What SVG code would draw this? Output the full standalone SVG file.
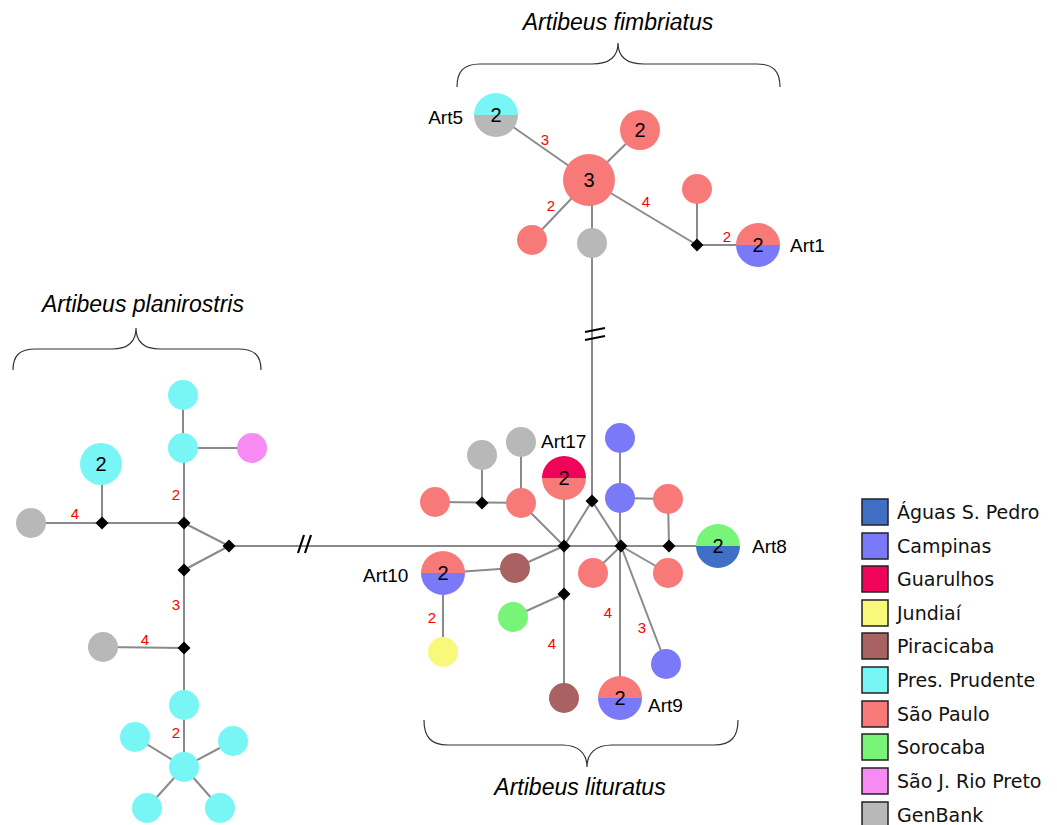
<svg xmlns="http://www.w3.org/2000/svg" width="1057" height="825" viewBox="0 0 1057 825">
  <style>
    .edge { stroke: #8a8a8a; stroke-width: 2; fill: none; }
    .brk { stroke: #000; stroke-width: 2.2; fill: none; }
    .brace { stroke: #333; stroke-width: 1.2; fill: none; }
    .sp { fill: #f87a78; }
    .ca { fill: #7a7af8; }
    .pp { fill: #78f6f6; }
    .gb { fill: #b8b8b8; }
    .gu { fill: #f0045a; }
    .ju { fill: #f8f87a; }
    .pi { fill: #a86262; }
    .so { fill: #78f478; }
    .rp { fill: #f88af4; }
    .ag { fill: #4070c4; }
    .num { font-family: "Liberation Sans", Arial, sans-serif; font-size: 20px; fill: #000; text-anchor: middle; }
    .lbl { font-family: "Liberation Sans", Arial, sans-serif; font-size: 19px; fill: #000; }
    .ed { font-family: "Liberation Sans", Arial, sans-serif; font-size: 15px; fill: #ff0000; text-anchor: middle; }
    .title { font-family: "Liberation Sans", Arial, sans-serif; font-size: 23px; font-style: italic; fill: #000; text-anchor: middle; }
    .leg { font-family: "DejaVu Sans", Verdana, sans-serif; font-size: 19px; fill: #111; }
    .box { stroke: #222; stroke-width: 1.5; }
  </style>
  <defs>
    <path id="dia" d="M0,-6.5 L6.5,0 L0,6.5 L-6.5,0 Z" fill="#000"/>
  </defs>

  <!-- connectors -->
  <g id="connectors">
    <!-- fimbriatus -->
    <line class="edge" x1="496" y1="115" x2="589" y2="180"/>
    <line class="edge" x1="589" y1="180" x2="640" y2="130"/>
    <line class="edge" x1="589" y1="180" x2="532" y2="240"/>
    <line class="edge" x1="592" y1="180" x2="592" y2="243"/>
    <line class="edge" x1="589" y1="180" x2="697" y2="245"/>
    <line class="edge" x1="697" y1="189" x2="697" y2="245"/>
    <line class="edge" x1="697" y1="245" x2="758" y2="245"/>
    <!-- link between fimbriatus and lituratus -->
    <line class="edge" x1="592" y1="243" x2="592" y2="501"/>
    <!-- planirostris -->
    <line class="edge" x1="31" y1="523" x2="184" y2="523"/>
    <line class="edge" x1="102" y1="464" x2="102" y2="523"/>
    <line class="edge" x1="183" y1="395" x2="183" y2="448"/>
    <line class="edge" x1="183" y1="448" x2="252" y2="448"/>
    <line class="edge" x1="184" y1="448" x2="184" y2="767"/>
    <line class="edge" x1="184" y1="523" x2="229" y2="546"/>
    <line class="edge" x1="184" y1="570" x2="229" y2="546"/>
    <line class="edge" x1="103" y1="647" x2="184" y2="648"/>
    <line class="edge" x1="184" y1="767" x2="135" y2="737"/>
    <line class="edge" x1="184" y1="767" x2="233" y2="741"/>
    <line class="edge" x1="184" y1="767" x2="147" y2="808"/>
    <line class="edge" x1="184" y1="767" x2="220" y2="808"/>
    <!-- link between planirostris and lituratus -->
    <line class="edge" x1="229" y1="546" x2="718" y2="546"/>
    <!-- lituratus -->
    <line class="edge" x1="435" y1="502" x2="521" y2="503"/>
    <line class="edge" x1="482" y1="455" x2="482" y2="503"/>
    <line class="edge" x1="521" y1="442" x2="521" y2="503"/>
    <line class="edge" x1="521" y1="503" x2="564" y2="546"/>
    <line class="edge" x1="564" y1="478" x2="564" y2="698"/>
    <line class="edge" x1="564" y1="546" x2="592" y2="501"/>
    <line class="edge" x1="592" y1="501" x2="621" y2="546"/>
    <line class="edge" x1="564" y1="546" x2="515" y2="568"/>
    <line class="edge" x1="443" y1="573" x2="515" y2="568"/>
    <line class="edge" x1="443" y1="573" x2="443" y2="652"/>
    <line class="edge" x1="564" y1="594" x2="513" y2="617"/>
    <line class="edge" x1="620" y1="438" x2="620" y2="698"/>
    <line class="edge" x1="620" y1="498" x2="668" y2="499"/>
    <line class="edge" x1="668" y1="499" x2="669" y2="546"/>
    <line class="edge" x1="621" y1="546" x2="593" y2="573"/>
    <line class="edge" x1="621" y1="546" x2="668" y2="573"/>
    <line class="edge" x1="621" y1="546" x2="666" y2="664"/>
    <!-- break marks -->
    <line class="brk" x1="298" y1="553" x2="304" y2="535"/>
    <line class="brk" x1="305" y1="553" x2="311" y2="535"/>
    <line class="brk" x1="585" y1="332" x2="605" y2="328"/>
    <line class="brk" x1="585" y1="340" x2="605" y2="336"/>
    <!-- edge weights -->
    <text class="ed" x="545" y="145">3</text>
    <text class="ed" x="551" y="211">2</text>
    <text class="ed" x="646" y="207">4</text>
    <text class="ed" x="727" y="242">2</text>
    <text class="ed" x="75" y="519">4</text>
    <text class="ed" x="176" y="500">2</text>
    <text class="ed" x="176" y="610">3</text>
    <text class="ed" x="145" y="645">4</text>
    <text class="ed" x="176" y="738">2</text>
    <text class="ed" x="432" y="623">2</text>
    <text class="ed" x="552" y="649">4</text>
    <text class="ed" x="608" y="618">4</text>
    <text class="ed" x="642" y="633">3</text>
  </g>

  <!-- Artibeus fimbriatus -->
  <g id="fimbriatus">
    <text class="title" x="618" y="30">Artibeus fimbriatus</text>
    <path class="brace" d="M457,87 C457,72 463,64 480,64 L592,64 C610,64 618,56 618,43 C618,56 626,64 644,64 L757,64 C774,64 780,72 780,87"/>
    <g id="art5">
      <path class="pp" d="M474,115 A22,22 0 0 1 518,115 Z"/>
      <path class="gb" d="M474,115 A22,22 0 0 0 518,115 Z"/>
      <text class="num" x="496" y="122">2</text>
      <text class="lbl" x="463" y="124" text-anchor="end">Art5</text>
    </g>
    <g id="f-hub"><circle class="sp" cx="589" cy="180" r="26"/><text class="num" x="589" y="187">3</text></g>
    <g id="f-n2"><circle class="sp" cx="640" cy="130" r="20"/><text class="num" x="640" y="137">2</text></g>
    <g id="f-n3"><circle class="sp" cx="532" cy="240" r="15"/></g>
    <g id="f-n4"><circle class="gb" cx="592" cy="243" r="15"/></g>
    <g id="f-n5"><circle class="sp" cx="697" cy="189" r="15"/></g>
    <g id="f-j1"><use href="#dia" x="697" y="245"/></g>
    <g id="art1">
      <path class="sp" d="M736,245 A22,22 0 0 1 780,245 Z"/>
      <path class="ca" d="M736,245 A22,22 0 0 0 780,245 Z"/>
      <text class="num" x="758" y="252">2</text>
      <text class="lbl" x="790" y="252">Art1</text>
    </g>
  </g>

  <!-- Artibeus planirostris -->
  <g id="planirostris">
    <text class="title" x="143" y="312">Artibeus planirostris</text>
    <path class="brace" d="M13,370 C13,356 19,349 36,349 L112,349 C129,349 136,341 136,328 C136,341 143,349 160,349 L238,349 C255,349 261,356 261,370"/>
    <g id="p-n1"><circle class="pp" cx="183" cy="395" r="15"/></g>
    <g id="p-n2"><circle class="pp" cx="183" cy="448" r="15"/></g>
    <g id="p-n3"><circle class="rp" cx="252" cy="448" r="15"/></g>
    <g id="p-n4"><circle class="pp" cx="101" cy="464" r="21"/><text class="num" x="101" y="471">2</text></g>
    <g id="p-n5"><circle class="gb" cx="31" cy="523" r="15"/></g>
    <g id="p-n6"><circle class="gb" cx="103" cy="647" r="15"/></g>
    <g id="p-n7"><circle class="pp" cx="184" cy="705" r="15"/></g>
    <g id="p-n8"><circle class="pp" cx="184" cy="767" r="15"/></g>
    <g id="p-n9"><circle class="pp" cx="135" cy="737" r="15"/></g>
    <g id="p-n10"><circle class="pp" cx="233" cy="741" r="15"/></g>
    <g id="p-n11"><circle class="pp" cx="147" cy="808" r="15"/></g>
    <g id="p-n12"><circle class="pp" cx="220" cy="808" r="15"/></g>
    <g id="p-junctions">
      <use href="#dia" x="102" y="523"/>
      <use href="#dia" x="184" y="523"/>
      <use href="#dia" x="229" y="546"/>
      <use href="#dia" x="184" y="570"/>
      <use href="#dia" x="184" y="648"/>
    </g>
  </g>

  <!-- Artibeus lituratus -->
  <g id="lituratus">
    <text class="title" x="580" y="795">Artibeus lituratus</text>
    <path class="brace" d="M424,720 C424,736 430,745 448,745 L562,745 C579,745 587,754 587,767 C587,754 595,745 612,745 L714,745 C732,745 738,736 738,720"/>
    <g id="l-n1"><circle class="sp" cx="435" cy="502" r="15"/></g>
    <g id="l-n2"><circle class="gb" cx="482" cy="455" r="15"/></g>
    <g id="l-n3"><circle class="gb" cx="521" cy="442" r="15"/></g>
    <g id="l-n4"><circle class="sp" cx="521" cy="503" r="15"/></g>
    <g id="art17">
      <path class="gu" d="M542,478 A22,22 0 0 1 586,478 Z"/>
      <path class="sp" d="M542,478 A22,22 0 0 0 586,478 Z"/>
      <text class="num" x="564" y="485">2</text>
      <text class="lbl" x="541" y="448">Art17</text>
    </g>
    <g id="l-n5"><circle class="ca" cx="620" cy="438" r="15"/></g>
    <g id="l-n6"><circle class="ca" cx="620" cy="498" r="15"/></g>
    <g id="l-n7"><circle class="sp" cx="668" cy="499" r="15"/></g>
    <g id="art8">
      <path class="so" d="M696,546 A22,22 0 0 1 740,546 Z"/>
      <path class="ag" d="M696,546 A22,22 0 0 0 740,546 Z"/>
      <text class="num" x="718" y="553">2</text>
      <text class="lbl" x="752" y="553">Art8</text>
    </g>
    <g id="art10">
      <path class="sp" d="M421,573 A22,22 0 0 1 465,573 Z"/>
      <path class="ca" d="M421,573 A22,22 0 0 0 465,573 Z"/>
      <text class="num" x="443" y="580">2</text>
      <text class="lbl" x="363" y="582">Art10</text>
    </g>
    <g id="l-n8"><circle class="pi" cx="515" cy="568" r="15"/></g>
    <g id="l-n9"><circle class="sp" cx="593" cy="573" r="15"/></g>
    <g id="l-n10"><circle class="sp" cx="668" cy="573" r="15"/></g>
    <g id="l-n11"><circle class="so" cx="513" cy="617" r="15"/></g>
    <g id="l-n12"><circle class="ju" cx="443" cy="652" r="15"/></g>
    <g id="l-n13"><circle class="pi" cx="564" cy="698" r="15"/></g>
    <g id="l-n14"><circle class="ca" cx="666" cy="664" r="15"/></g>
    <g id="art9">
      <path class="sp" d="M598,698 A22,22 0 0 1 642,698 Z"/>
      <path class="ca" d="M598,698 A22,22 0 0 0 642,698 Z"/>
      <text class="num" x="620" y="705">2</text>
      <text class="lbl" x="648" y="712">Art9</text>
    </g>
    <g id="l-junctions">
      <use href="#dia" x="482" y="503"/>
      <use href="#dia" x="592" y="501"/>
      <use href="#dia" x="564" y="546"/>
      <use href="#dia" x="621" y="546"/>
      <use href="#dia" x="669" y="546"/>
      <use href="#dia" x="564" y="594"/>
    </g>
  </g>

  <!-- legend -->
  <g id="legend">
    <rect class="box ag" x="862" y="499" width="26" height="26"/>
    <text class="leg" x="897" y="519">Águas S. Pedro</text>
    <rect class="box ca" x="862" y="533" width="26" height="26"/>
    <text class="leg" x="897" y="553">Campinas</text>
    <rect class="box gu" x="862" y="566" width="26" height="26"/>
    <text class="leg" x="897" y="586">Guarulhos</text>
    <rect class="box ju" x="862" y="600" width="26" height="26"/>
    <text class="leg" x="897" y="620">Jundiaí</text>
    <rect class="box pi" x="862" y="633" width="26" height="26"/>
    <text class="leg" x="897" y="653">Piracicaba</text>
    <rect class="box pp" x="862" y="667" width="26" height="26"/>
    <text class="leg" x="897" y="687">Pres. Prudente</text>
    <rect class="box sp" x="862" y="701" width="26" height="26"/>
    <text class="leg" x="897" y="721">São Paulo</text>
    <rect class="box so" x="862" y="734" width="26" height="26"/>
    <text class="leg" x="897" y="754">Sorocaba</text>
    <rect class="box rp" x="862" y="768" width="26" height="26"/>
    <text class="leg" x="897" y="788">São J. Rio Preto</text>
    <rect class="box gb" x="862" y="802" width="26" height="26"/>
    <text class="leg" x="897" y="822">GenBank</text>
  </g>
</svg>
